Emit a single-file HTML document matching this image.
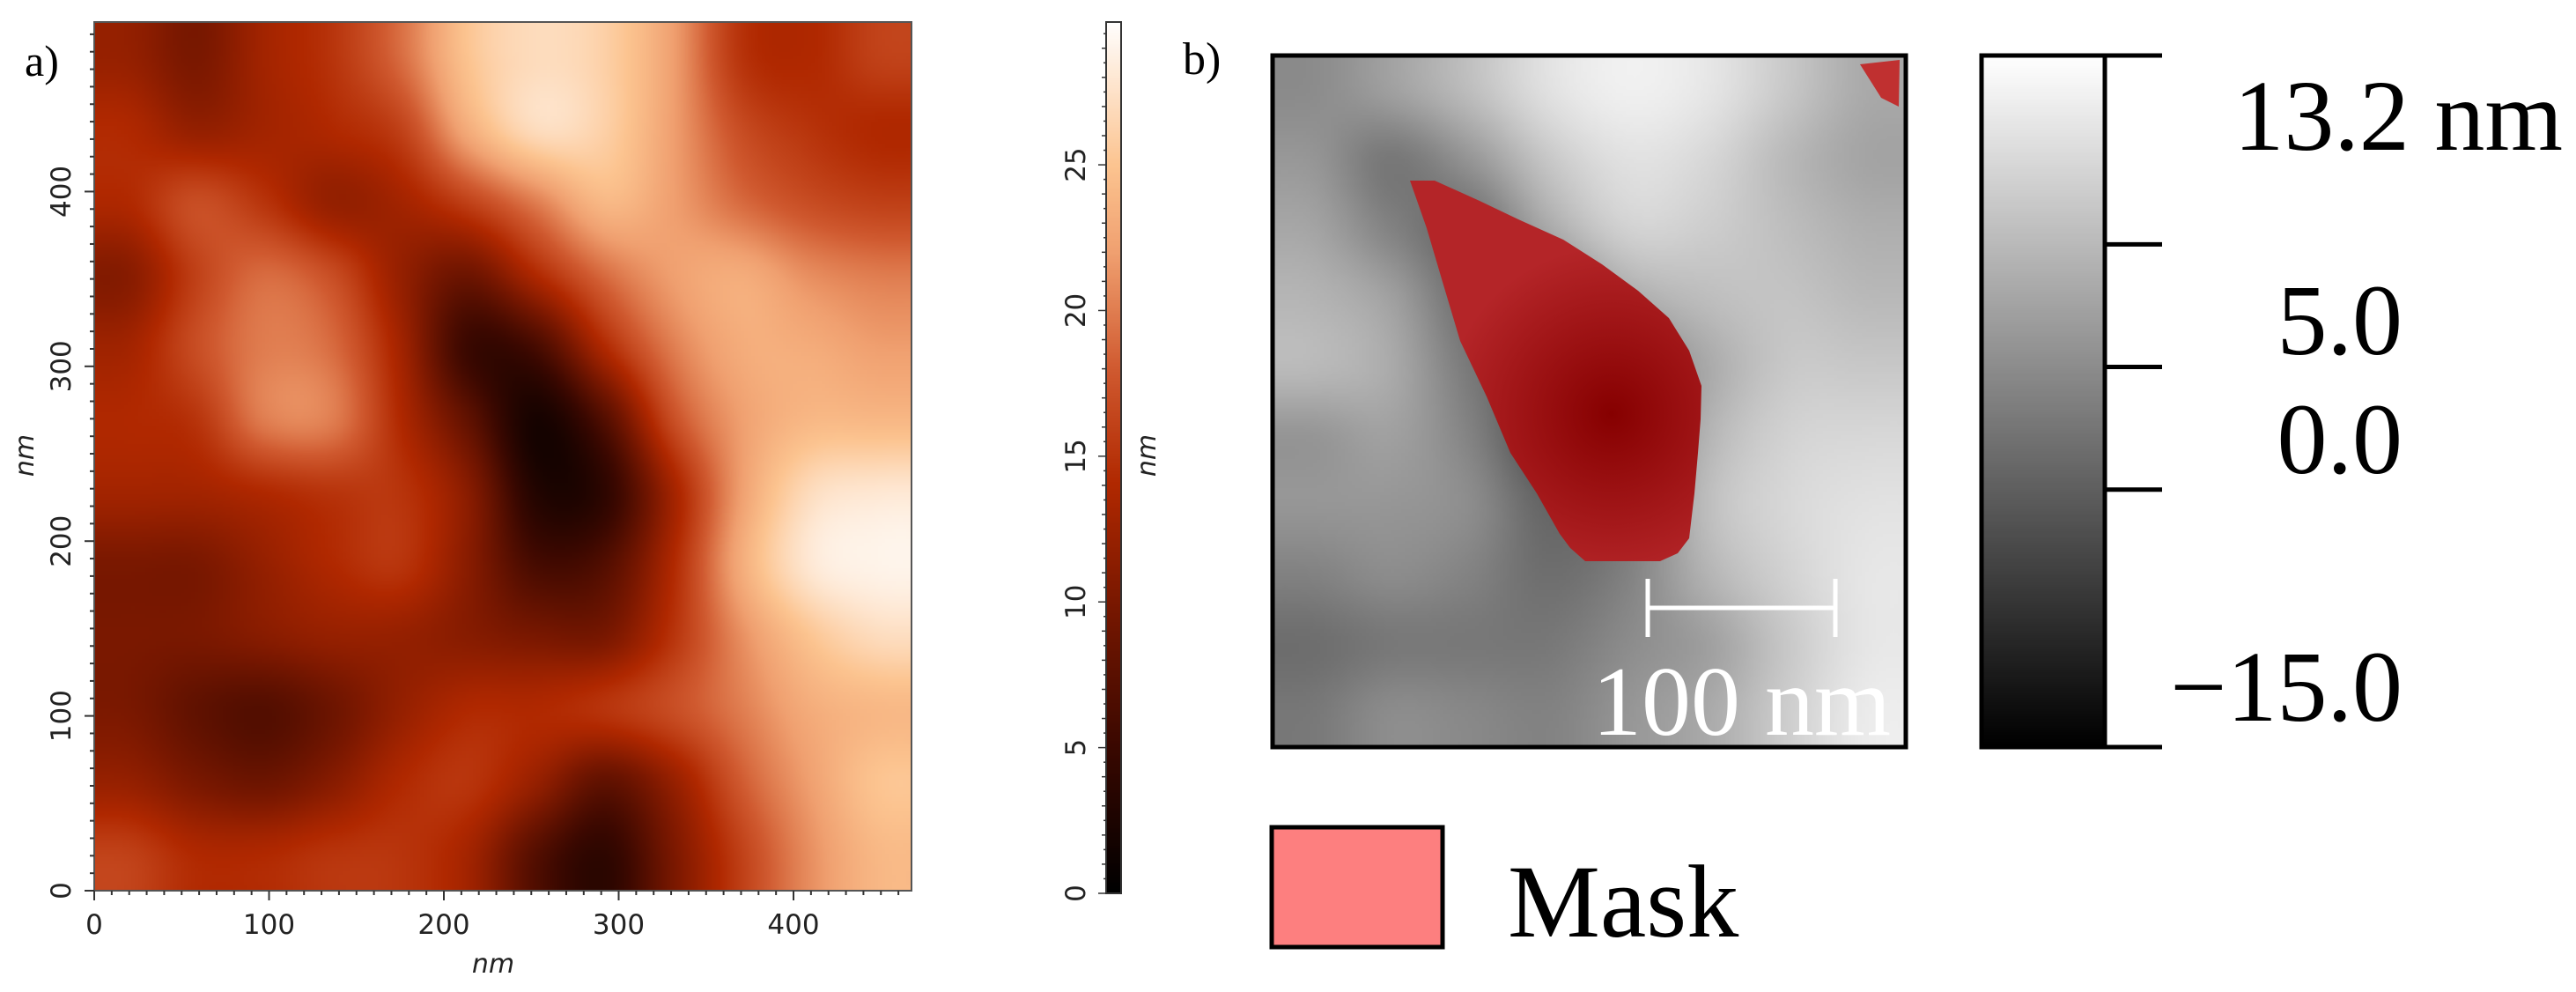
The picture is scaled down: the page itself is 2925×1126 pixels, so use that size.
<!DOCTYPE html>
<html><head><meta charset="utf-8">
<style>
html,body{margin:0;padding:0;background:#fff;}
#root{position:relative;width:2925px;height:1126px;overflow:hidden;background:#fff;}
.abs{position:absolute;}
.serif{font-family:"Liberation Serif",serif;color:#000;}
canvas{position:absolute;image-rendering:auto;}
</style></head>
<body>
<div id="root">
  <div class="abs serif" style="left:28px;top:40px;font-size:50px;">a)</div>
  <canvas id="cA" style="left:107px;top:25px;width:928px;height:986px;"></canvas>
  <canvas id="cBar" width="1" height="300" style="left:1256px;top:25px;width:17px;height:989px;"></canvas>
  <div class="abs serif" style="left:1343px;top:38px;font-size:52px;">b)</div>
  <canvas id="cB" style="left:1445px;top:63px;width:719px;height:785px;"></canvas>
  <canvas id="cBar2" width="1" height="300" style="left:2250px;top:63px;width:140px;height:785px;"></canvas>
  <svg id="ov" class="abs" style="left:0;top:0" width="2925" height="1126">
    <defs>
      <radialGradient id="mg" cx="1830" cy="470" r="190" gradientUnits="userSpaceOnUse">
        <stop offset="0" stop-color="#860000"/><stop offset="1" stop-color="#b42528"/>
      </radialGradient>
    </defs>
    <polygon fill="url(#mg)" points="1601,205 1629,205 1680,228 1724,249 1775,272 1819,300 1860,330 1895,361 1918,398 1932,438 1931,476 1928,514 1924,560 1918,611 1905,628 1885,637 1800,637 1783,622 1771,606 1745,560 1715,514 1688,450 1658,387 1638,320 1620,259"/>
    <polygon fill="#c03030" points="2112,73 2157,68 2156,121 2136,111"/>
    <rect x="1445" y="63" width="719" height="785" fill="none" stroke="#000" stroke-width="5"/>
    <rect x="2250" y="63" width="140" height="785" fill="none" stroke="#000" stroke-width="5"/>
    <g stroke="#fff" stroke-width="5">
      <line x1="1871" y1="690" x2="2084" y2="690"/>
      <line x1="1871" y1="657" x2="1871" y2="723"/>
      <line x1="2084" y1="657" x2="2084" y2="723"/>
    </g>
    <text x="1808" y="834" fill="#fff" font-family="Liberation Serif, serif" font-size="112">100 nm</text>
    <g id="cb2ticks" stroke="#000" stroke-width="5"></g>
    <rect x="1444" y="939" width="194" height="136" fill="#fd7f7f" stroke="#000" stroke-width="5"/>
    <text x="1712" y="1063" font-family="Liberation Serif, serif" font-size="118">Mask</text>
    <rect x="107" y="25" width="928" height="986" fill="none" stroke="#555" stroke-width="2"/>
    <rect x="1256" y="25" width="17" height="989" fill="none" stroke="#333" stroke-width="2"/>
    <g id="axA"></g>
  </svg>
</div>
<script>
// ---- data: panel a (nm, 0-30), 12x12, top row first
const gridA = [
 [12,10,13,15,19,25,27,26,22,15,14,16],
 [14,12,13,14,16,23,27,26,22,17,15,14],
 [14,17,15,12,13,16,20,24,22,19,17,16],
 [11,16,19,17,12,9,14,19,22,23,21,20],
 [13,17,20,19,13,5,6,14,20,23,23,22],
 [14,15,20,20,14,8,2,7,17,22,24,24],
 [13,13,14,15,15,11,3,4,13,22,27,28],
 [10,10,12,14,15,11,6,7,14,23,28,29],
 [10,10,11,12,12,11,10,10,15,21,25,27],
 [10,8,7,9,12,14,14,15,17,20,23,24],
 [12,10,9,11,14,15,12,8,12,18,22,25],
 [16,14,14,15,15,13,7,4,10,16,21,24]
];
// panel b (nm, -15 to 13.2), 8x10
const gridB = [
 [0.5,2.7,6.0,9.9,11.5,10.4,7.1,3.8],
 [1.6,-1.7,1.6,7.1,9.9,8.8,5.5,3.2],
 [3.2,-0.6,-2.8,3.8,8.2,7.7,6.0,4.4],
 [4.9,2.7,-2.8,-1.7,3.8,6.0,6.6,5.5],
 [5.5,3.8,-1.7,-5.0,-1.7,3.8,7.1,7.1],
 [1.6,2.7,-0.6,-6.2,-2.8,4.9,8.2,8.8],
 [1.6,1.6,0.5,-3.9,-1.7,6.0,8.8,9.9],
 [-0.6,0.5,-0.6,-2.8,-0.6,4.9,8.2,10.4],
 [-2.8,-1.7,-1.7,-1.7,0.5,2.7,7.1,10.4],
 [-1.7,0.5,0.0,-0.6,1.6,3.8,7.7,11.0]
];
const xTicksA = [0,100,200,300,400];
const yTicksA = [0,100,200,300,400];
const cbTicksA = [0,5,10,15,20,25];
const cbLabelsB = ["13.2 nm","5.0","0.0","\u221215.0"];
const tickValsB = [13.2,5.5,0.5,-4.5,-15.0];
const extentA = {x:467.5, y:497, zmax:29.9};
const rangeB = {min:-15, max:13.2};

const stops=[[0,[0,0,0]],[5,[58,8,0]],[10,[122,24,0]],[14,[176,40,0]],[18,[208,90,48]],[22,[240,160,112]],[25,[252,196,144]],[30,[255,255,255]]];
function cmapA(v){
  if(v<=stops[0][0])return stops[0][1];
  for(let i=1;i<stops.length;i++){if(v<=stops[i][0]){const a=stops[i-1],b=stops[i],t=(v-a[0])/(b[0]-a[0]);return a[1].map((c,k)=>Math.round(c+(b[1][k]-c)*t));}}
  return stops[stops.length-1][1];
}
function cmapB(v){const g=Math.max(0,Math.min(255,Math.round((v-rangeB.min)/(rangeB.max-rangeB.min)*255)));return [g,g,g];}
function rgb(c){return 'rgb('+c.join(',')+')';}
function cr(p0,p1,p2,p3,t){return 0.5*((2*p1)+(-p0+p2)*t+(2*p0-5*p1+4*p2-p3)*t*t+(-p0+3*p1-3*p2+p3)*t*t*t);}
function sample(grid,gx,gy){
  const R=grid.length,C=grid[0].length;
  const at=(r,c)=>grid[Math.max(0,Math.min(R-1,r))][Math.max(0,Math.min(C-1,c))];
  const ix=Math.floor(gx),iy=Math.floor(gy),tx=gx-ix,ty=gy-iy;
  const rows=[];
  for(let j=-1;j<=2;j++)rows.push(cr(at(iy+j,ix-1),at(iy+j,ix),at(iy+j,ix+1),at(iy+j,ix+2),tx));
  return cr(rows[0],rows[1],rows[2],rows[3],ty);
}
function drawGrid(id,grid,cm,W,H){
  const c=document.getElementById(id);c.width=W;c.height=H;const ctx=c.getContext('2d');
  const img=ctx.createImageData(W,H);const R=grid.length,C=grid[0].length;
  for(let y=0;y<H;y++)for(let x=0;x<W;x++){
    const gx=(x+0.5)/W*C-0.5,gy=(y+0.5)/H*R-0.5;
    const col=cm(sample(grid,gx,gy));const i=(y*W+x)*4;
    img.data[i]=col[0];img.data[i+1]=col[1];img.data[i+2]=col[2];img.data[i+3]=255;
  }
  ctx.putImageData(img,0,0);
}
drawGrid('cA',gridA,cmapA,232,246);
drawGrid('cB',gridB,cmapB,180,196);
function drawBar(id,cm,lo,hi){
  const c=document.getElementById(id),ctx=c.getContext('2d');
  for(let i=0;i<300;i++){const v=hi-(hi-lo)*i/299;ctx.fillStyle=rgb(cm(v));ctx.fillRect(0,i,1,1);}
}
drawBar('cBar',cmapA,0,extentA.zmax);
drawBar('cBar2',cmapB,rangeB.min,rangeB.max);

const NS='http://www.w3.org/2000/svg';
const ax=document.getElementById('axA');
function el(tag,attrs,parent){const e=document.createElementNS(NS,tag);for(const k in attrs)e.setAttribute(k,attrs[k]);(parent||ax).appendChild(e);return e;}
const X0=107,X1=1035,Y0=1011,Y1=25;
const xs=v=>X0+(X1-X0)*v/extentA.x;
const ys=v=>Y0-(Y0-Y1)*v/extentA.y;
for(let v=0;v<=extentA.x;v+=10){const e=el('line',{x1:xs(v),x2:xs(v),y1:Y0,y2:Y0+(v%100===0?11:5),stroke:'#333','stroke-width':2});

}
for(let v=0;v<=extentA.y;v+=10){const e=el('line',{x1:X0,x2:X0-(v%100===0?11:5),y1:ys(v),y2:ys(v),stroke:'#333','stroke-width':2});

}
xTicksA.forEach(v=>{const t=el('text',{x:xs(v),y:1060,'text-anchor':'middle','font-family':'DejaVu Sans, sans-serif','font-size':31,fill:'#222'});t.textContent=v;

});
yTicksA.forEach(v=>{const t=el('text',{x:0,y:0,'text-anchor':'middle','font-family':'DejaVu Sans, sans-serif','font-size':31,fill:'#222',transform:'translate(80,'+ys(v)+') rotate(-90)'});t.textContent=v;

});
let t=el('text',{x:560,y:1104,'text-anchor':'middle','font-family':'DejaVu Sans, sans-serif','font-size':30,'font-style':'italic',fill:'#222'});t.textContent='nm';


t=el('text',{x:0,y:0,'text-anchor':'middle','font-family':'DejaVu Sans, sans-serif','font-size':30,'font-style':'italic',fill:'#222',transform:'translate(38,517) rotate(-90)'});t.textContent='nm';


const CB0=1014,CB1=25;const cbs=v=>CB0-(CB0-CB1)*v/extentA.zmax;
for(let v=0;v<=extentA.zmax;v+=0.5){const e=el('line',{x1:1256,x2:1256-(v%5===0?9:(v%1===0?5:3)),y1:cbs(v),y2:cbs(v),stroke:'#333','stroke-width':1.5});

}
cbTicksA.forEach(v=>{const tt=el('text',{x:0,y:0,'text-anchor':'middle','font-family':'DejaVu Sans, sans-serif','font-size':31,fill:'#222',transform:'translate(1232,'+cbs(v)+') rotate(-90)'});tt.textContent=v;

});
t=el('text',{x:0,y:0,'text-anchor':'middle','font-family':'DejaVu Sans, sans-serif','font-size':30,'font-style':'italic',fill:'#222',transform:'translate(1312,517) rotate(-90)'});t.textContent='nm';


const g2=document.getElementById('cb2ticks');
const B0=848,B1=63;const bs=v=>B0-(B0-B1)*(v-rangeB.min)/(rangeB.max-rangeB.min);
tickValsB.forEach(v=>{const e=el('line',{x1:2390,x2:2455,y1:bs(v),y2:bs(v)},g2);

});
const labelPos=[[2910,170],[2728,402],[2728,537],[2728,818]];
cbLabelsB.forEach((s,i)=>{const tt=el('text',{x:labelPos[i][0],y:labelPos[i][1],'text-anchor':'end','font-family':'Liberation Serif, serif','font-size':114,fill:'#000'});tt.textContent=s;

});
</script>
</body></html>
